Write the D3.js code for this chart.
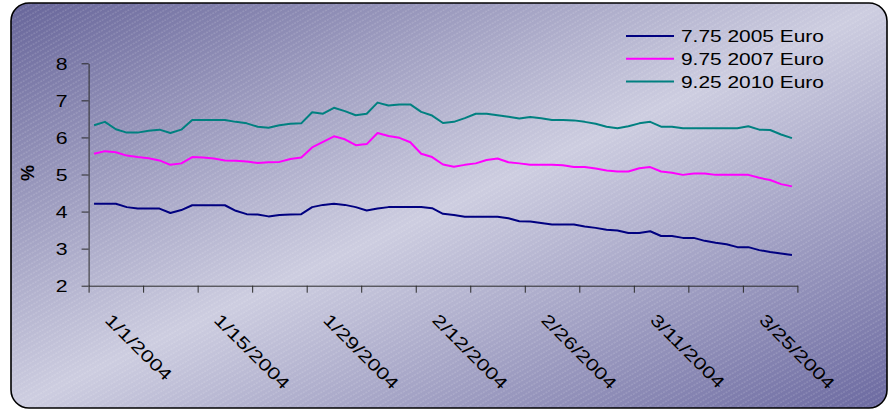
<!DOCTYPE html>
<html>
<head>
<meta charset="utf-8">
<script src="https://cdn.jsdelivr.net/npm/d3@7"></script>
<style>
  html, body { margin: 0; padding: 0; background: #ffffff; }
  svg { display: block; }
  text { font-family: "Liberation Sans", Arial, sans-serif; fill: #000; }
</style>
</head>
<body>
<svg id="chart" width="888" height="412"></svg>
<script>
// ---- data ----
const categories = [
  "1/1/2004","1/2/2004","1/5/2004","1/6/2004","1/7/2004","1/8/2004","1/9/2004","1/12/2004","1/13/2004","1/14/2004",
  "1/15/2004","1/16/2004","1/19/2004","1/20/2004","1/21/2004","1/22/2004","1/23/2004","1/26/2004","1/27/2004","1/28/2004",
  "1/29/2004","1/30/2004","2/2/2004","2/3/2004","2/4/2004","2/5/2004","2/6/2004","2/9/2004","2/10/2004","2/11/2004",
  "2/12/2004","2/13/2004","2/16/2004","2/17/2004","2/18/2004","2/19/2004","2/20/2004","2/23/2004","2/24/2004","2/25/2004",
  "2/26/2004","2/27/2004","3/1/2004","3/2/2004","3/3/2004","3/4/2004","3/5/2004","3/8/2004","3/9/2004","3/10/2004",
  "3/11/2004","3/12/2004","3/15/2004","3/16/2004","3/17/2004","3/18/2004","3/19/2004","3/22/2004","3/23/2004","3/24/2004",
  "3/25/2004","3/26/2004","3/29/2004","3/30/2004","3/31/2004"
];
const xTickLabels = ["1/1/2004","1/15/2004","1/29/2004","2/12/2004","2/26/2004","3/11/2004","3/25/2004"];
const yTickValues = [2, 3, 4, 5, 6, 7, 8];
const yLabel = "%";

const seriesNames = ["7.75 2005 Euro", "9.75 2007 Euro", "9.25 2010 Euro"];
const seriesColors = ["#000080", "#ff00ff", "#008080"];

const euro2005 = [
  4.21,4.21,4.21,4.12,4.08,4.08,4.08,3.96,4.04,4.17,4.17,4.17,4.17,4.02,3.93,3.92,
  3.87,3.91,3.92,3.93,4.12,4.18,4.21,4.18,4.12,4.03,4.08,4.12,4.12,4.12,4.12,4.09,
  3.94,3.91,3.86,3.86,3.86,3.86,3.82,3.74,3.73,3.69,3.65,3.65,3.65,3.60,3.56,3.51,
  3.49,3.42,3.42,3.47,3.34,3.34,3.29,3.29,3.21,3.16,3.12,3.04,3.04,2.96,2.91,2.87,2.83
];
const euro2007 = [
  5.56,5.63,5.60,5.51,5.47,5.44,5.38,5.26,5.30,5.47,5.46,5.43,5.38,5.37,5.35,5.31,
  5.33,5.34,5.42,5.46,5.73,5.88,6.03,5.95,5.79,5.82,6.12,6.04,5.99,5.87,5.56,5.47,
  5.27,5.21,5.26,5.30,5.39,5.43,5.33,5.30,5.26,5.26,5.26,5.25,5.20,5.20,5.16,5.11,
  5.08,5.08,5.17,5.20,5.08,5.05,4.99,5.03,5.03,4.99,4.99,4.99,4.99,4.91,4.85,4.74,4.68
];
const euro2010 = [
  6.33,6.42,6.22,6.13,6.13,6.18,6.21,6.12,6.21,6.47,6.47,6.47,6.47,6.42,6.38,6.29,
  6.26,6.33,6.37,6.38,6.68,6.64,6.80,6.71,6.60,6.64,6.94,6.86,6.89,6.89,6.69,6.59,
  6.39,6.42,6.52,6.64,6.64,6.60,6.56,6.51,6.55,6.52,6.47,6.47,6.46,6.42,6.37,6.29,
  6.25,6.30,6.38,6.42,6.29,6.29,6.25,6.25,6.25,6.25,6.25,6.25,6.30,6.21,6.20,6.08,5.98
];
const seriesValues = [euro2005, euro2007, euro2010];

// ---- drawing ----
const svg = d3.select("#chart");
const defs = svg.append("defs");

const grad = defs.append("linearGradient").attr("id", "bg")
  .attr("x1", 0).attr("y1", 0).attr("x2", 1).attr("y2", 1);
grad.append("stop").attr("offset", "0%").attr("stop-color", "#67659a");
grad.append("stop").attr("offset", "50%").attr("stop-color", "#cdcde0");
grad.append("stop").attr("offset", "100%").attr("stop-color", "#6b69a0");

const pat = defs.append("pattern").attr("id", "hatch")
  .attr("patternUnits", "userSpaceOnUse").attr("width", 6).attr("height", 4.5)
  .attr("patternTransform", "rotate(-30)");
pat.append("line").attr("x1", 0).attr("y1", 1).attr("x2", 6).attr("y2", 1)
  .attr("stroke", "#ffffff").attr("stroke-opacity", 0.28).attr("stroke-width", 0.8)
  .attr("stroke-dasharray", "2 1");

const frame = { x: 11, y: 3, w: 876, h: 405, r: 18 };
svg.append("rect").attr("x", frame.x).attr("y", frame.y).attr("width", frame.w).attr("height", frame.h)
  .attr("rx", frame.r).attr("ry", frame.r).attr("fill", "url(#bg)");
svg.append("rect").attr("x", frame.x).attr("y", frame.y).attr("width", frame.w).attr("height", frame.h)
  .attr("rx", frame.r).attr("ry", frame.r).attr("fill", "url(#hatch)");
svg.append("rect").attr("x", frame.x).attr("y", frame.y).attr("width", frame.w).attr("height", frame.h)
  .attr("rx", frame.r).attr("ry", frame.r).attr("fill", "none")
  .attr("stroke", "#000").attr("stroke-width", 1.6);

const plot = { left: 88.6, right: 797.4, top: 63.3, bottom: 285.7 };
const x = d3.scaleBand().domain(categories).range([plot.left, plot.right]).padding(0);
const xIdx = d3.scaleLinear().domain([0, categories.length]).range([plot.left, plot.right]);
const y = d3.scaleLinear().domain([2, 8]).range([plot.bottom, plot.top]);
const sx = 1.25;
const axisColor = "#2a2a2a";

// y axis
const yAxis = svg.append("g").attr("transform", `translate(${plot.left},0)`)
  .call(d3.axisLeft(y).tickValues(yTickValues).tickSize(7).tickSizeOuter(0).tickFormat(d3.format("d")));
yAxis.select(".domain").attr("stroke", axisColor);
yAxis.selectAll(".tick line").attr("stroke", axisColor);
yAxis.selectAll(".tick text")
  .attr("x", null).attr("dy", "0.36em")
  .attr("transform", `translate(-21,0) scale(${sx},1)`)
  .style("font-size", "17px").attr("fill", "#000");

// x axis
const xAxis = svg.append("g").attr("transform", `translate(0,${plot.bottom})`)
  .call(d3.axisBottom(xIdx).tickValues(d3.range(0, categories.length + 1, 5)).tickSize(7).tickSizeOuter(0).tickFormat(""));
xAxis.select(".domain").attr("stroke", axisColor);
xAxis.selectAll(".tick line").attr("stroke", axisColor);

svg.append("g").selectAll("text").data(xTickLabels).join("text")
  .attr("transform", d => `translate(${x(d) + x.bandwidth() / 2 + 10},${321}) rotate(45) scale(1.3,1)`)
  .attr("text-anchor", "start")
  .style("font-size", "17px")
  .text(d => d);

// y label
svg.append("text")
  .attr("transform", "translate(34,173) rotate(-90)")
  .attr("text-anchor", "middle")
  .style("font-size", "18px").style("font-weight", "bold")
  .text(yLabel);

// lines
const line = d3.line()
  .x((d, i) => x(categories[i]) + x.bandwidth() / 2)
  .y(d => y(d));
svg.append("g").selectAll("path").data(seriesValues).join("path")
  .attr("d", d => line(d))
  .attr("fill", "none")
  .attr("stroke", (d, i) => seriesColors[i])
  .attr("stroke-width", 2)
  .attr("stroke-linejoin", "round");

// legend
const legend = svg.append("g").attr("transform", "translate(626,36)");
const items = legend.selectAll("g").data(seriesNames).join("g")
  .attr("transform", (d, i) => `translate(0,${i * 22.8})`);
items.append("line").attr("x1", 0).attr("x2", 48).attr("y1", 0).attr("y2", 0)
  .attr("stroke", (d, i) => seriesColors[i]).attr("stroke-width", 2);
items.append("text")
  .attr("transform", `translate(55,0) scale(1.23,1)`)
  .attr("dy", "0.36em")
  .style("font-size", "17px")
  .text(d => d);
</script>
</body>
</html>
